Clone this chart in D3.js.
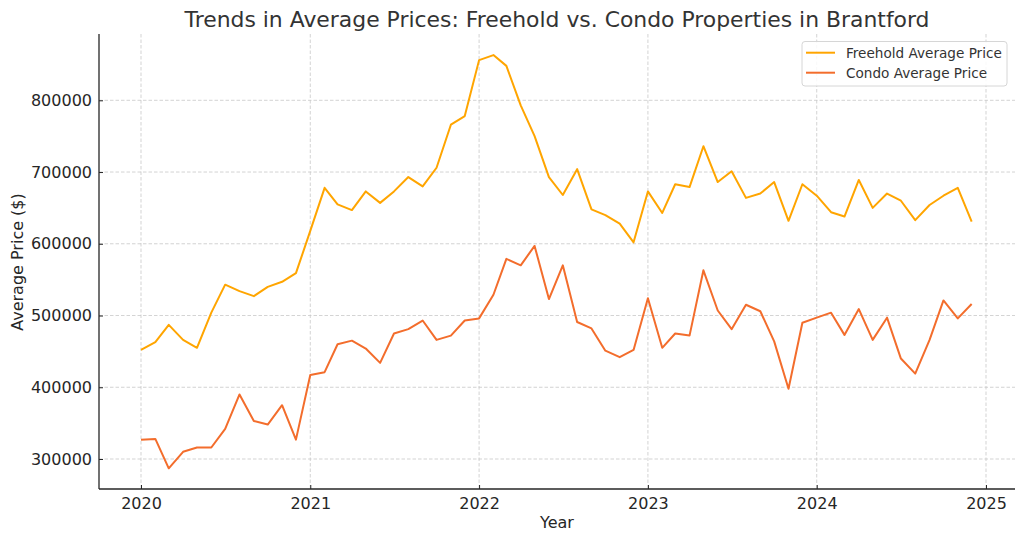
<!DOCTYPE html>
<html>
<head>
<meta charset="utf-8">
<script src="https://cdn.jsdelivr.net/npm/d3@7"></script>
<style>
  body { margin: 0; background: #fff; }
  svg { display: block; font-family: "DejaVu Sans", sans-serif; }
</style>
</head>
<body>
<svg id="chart" width="1024" height="542"></svg>
<script>
// ---- data ----
const months = d3.range(60).map(i => new Date(2020 + Math.floor(i / 12), i % 12, 1));
const freehold = [
  452000, 463000, 487000, 466000, 455000, 504000, 543000, 534000, 527000, 540000, 547000, 559000,
  618000, 678000, 655000, 647000, 673000, 657000, 673000, 693000, 680000, 706000, 766000, 778000,
  856000, 863000, 848000, 793000, 750000, 693000, 668000, 704000, 648000, 640000, 628000, 602000,
  673000, 643000, 683000, 679000, 736000, 686000, 701000, 664000, 670000, 686000, 632000, 683000,
  667000, 644000, 638000, 689000, 650000, 670000, 660000, 633000, 654000, 667000, 678000, 631000
];
const condo = [
  327000, 328000, 287000, 310000, 316000, 316000, 342000, 390000, 353000, 348000, 375000, 327000,
  417000, 421000, 460000, 465000, 454000, 434000, 475000, 481000, 493000, 466000, 472000, 493000,
  496000, 529000, 579000, 570000, 597000, 523000, 570000, 491000, 482000, 451000, 442000, 452000,
  524000, 455000, 475000, 472000, 563000, 507000, 481000, 515000, 506000, 464000, 398000, 490000,
  497000, 504000, 473000, 509000, 466000, 497000, 440000, 419000, 466000, 521000, 496000, 516000
];
const yTicks = [300000, 400000, 500000, 600000, 700000, 800000];
const xTicks = [2020, 2021, 2022, 2023, 2024, 2025];
const seriesNames = ["Freehold Average Price", "Condo Average Price"];
const colors = ["#ffa500", "#f36d2c"];

// ---- layout ----
const svg = d3.select("#chart");
const plot = { left: 99, right: 1015, top: 34, bottom: 489 };
const x = d3.scaleTime()
  .domain([new Date(2020, 0, 1), new Date(2025, 0, 1)])
  .range([141, 986]);
const y = d3.scaleLinear().domain([300000, 800000]).range([459, 100.3]);
const textColor = "#262626";

// grid
const grid = svg.append("g");
grid.selectAll("line.gx").data(xTicks).join("line")
  .attr("x1", d => x(new Date(d, 0, 1))).attr("x2", d => x(new Date(d, 0, 1)))
  .attr("y1", plot.top).attr("y2", plot.bottom)
  .attr("stroke", "#c8c8c8").attr("stroke-width", 0.8).attr("stroke-dasharray", "3.5,2");
grid.selectAll("line.gy").data(yTicks).join("line")
  .attr("x1", plot.left).attr("x2", plot.right)
  .attr("y1", d => y(d)).attr("y2", d => y(d))
  .attr("stroke", "#c8c8c8").attr("stroke-width", 0.8).attr("stroke-dasharray", "3.5,2");

// lines
const line = d3.line().x((d, i) => x(months[i])).y(d => y(d));
[freehold, condo].forEach((s, k) => {
  svg.append("path").datum(s)
    .attr("d", line)
    .attr("fill", "none")
    .attr("stroke", colors[k])
    .attr("stroke-width", 2)
    .attr("stroke-linejoin", "round");
});

// axes
const xAxis = d3.axisBottom(x)
  .tickValues(xTicks.map(d => new Date(d, 0, 1)))
  .tickFormat(d3.timeFormat("%Y"))
  .tickSizeInner(-4).tickSizeOuter(0).tickPadding(9);
const gx = svg.append("g").attr("transform", `translate(0,${plot.bottom})`).call(xAxis);
gx.select(".domain").remove();
gx.append("line").attr("x1", plot.left).attr("x2", plot.right).attr("y1", 0).attr("y2", 0)
  .attr("stroke", textColor).attr("stroke-width", 1.3);
gx.selectAll(".tick line").attr("stroke", textColor).attr("stroke-width", 1);
gx.selectAll(".tick text").attr("fill", textColor).attr("font-size", 16).attr("font-family", "DejaVu Sans");

const yAxis = d3.axisLeft(y).tickValues(yTicks).tickFormat(d3.format("d"))
  .tickSizeInner(-4).tickSizeOuter(0).tickPadding(7);
const gy = svg.append("g").attr("transform", `translate(${plot.left},0)`).call(yAxis);
gy.select(".domain").remove();
gy.append("line").attr("x1", 0).attr("x2", 0).attr("y1", plot.top).attr("y2", plot.bottom)
  .attr("stroke", textColor).attr("stroke-width", 1.3);
gy.selectAll(".tick line").attr("stroke", textColor).attr("stroke-width", 1);
gy.selectAll(".tick text").attr("fill", textColor).attr("font-size", 16).attr("font-family", "DejaVu Sans");

// axis titles
svg.append("text").attr("x", 557).attr("y", 528).attr("text-anchor", "middle")
  .attr("font-size", 16).attr("fill", textColor).text("Year");
svg.append("text").attr("transform", "translate(23,262) rotate(-90)").attr("text-anchor", "middle")
  .attr("font-size", 16).attr("fill", textColor).text("Average Price ($)");

// title
svg.append("text").attr("x", 557).attr("y", 27).attr("text-anchor", "middle")
  .attr("font-size", 21).attr("fill", "#333")
  .attr("textLength", 745).attr("lengthAdjust", "spacingAndGlyphs")
  .text("Trends in Average Prices: Freehold vs. Condo Properties in Brantford");

// legend
const lg = svg.append("g");
lg.append("rect").attr("x", 802).attr("y", 41.5).attr("width", 205).attr("height", 44.5)
  .attr("rx", 3).attr("fill", "#fff").attr("fill-opacity", 0.85)
  .attr("stroke", "#d6d6d6").attr("stroke-width", 1);
seriesNames.forEach((n, i) => {
  const yy = 52.7 + i * 20;
  lg.append("line").attr("x1", 806).attr("x2", 835).attr("y1", yy).attr("y2", yy)
    .attr("stroke", colors[i]).attr("stroke-width", 2);
  lg.append("text").attr("x", 846).attr("y", yy + 5).attr("font-size", 13.6)
    .attr("fill", "#333").text(n);
});
</script>
</body>
</html>
